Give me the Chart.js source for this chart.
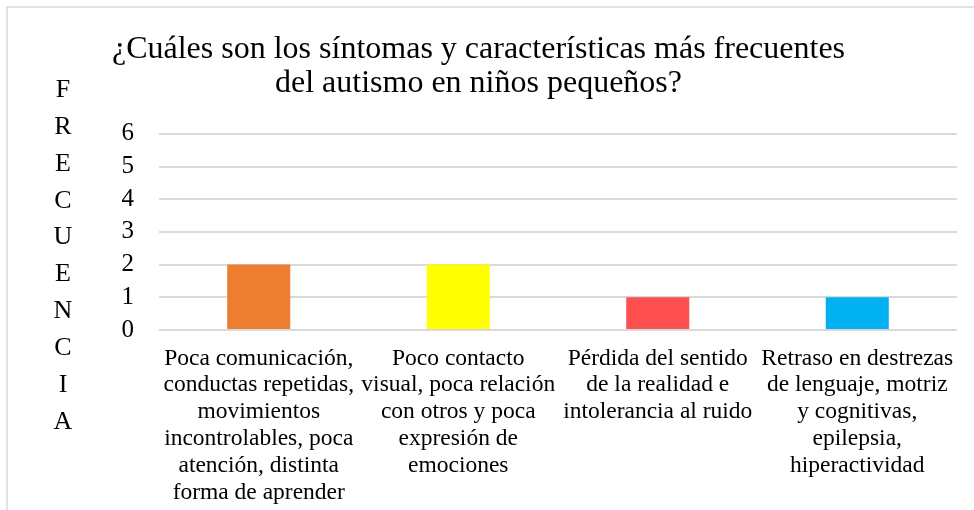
<!DOCTYPE html>
<html>
<head>
<meta charset="utf-8">
<script src="https://cdn.jsdelivr.net/npm/chart.js@4"></script>
<style>
  body { margin: 0; background: #fff; }
  #wrap { width: 974px; height: 510px; }
</style>
</head>
<body>
<div id="wrap"><canvas id="chart" width="974" height="510"></canvas></div>
<script>
// datos del gráfico
var categorias = [
  ['Poca comunicación,', 'conductas repetidas,', 'movimientos', 'incontrolables, poca', 'atención, distinta', 'forma de aprender'],
  ['Poco contacto', 'visual, poca relación', 'con otros y poca', 'expresión de', 'emociones'],
  ['Pérdida del sentido', 'de la realidad e', 'intolerancia al ruido'],
  ['Retraso en destrezas', 'de lenguaje, motriz', 'y cognitivas,', 'epilepsia,', 'hiperactividad']
];
var frecuencias = [2, 2, 1, 1];
var colores = ['#ED7D31', '#FFFF00', '#FF5050', '#00B0F0'];
var tituloY = 'FRECUENCIA';
var titulo = ['¿Cuáles son los síntomas y características más frecuentes', 'del autismo en niños pequeños?'];

var serif = '"Liberation Serif", "Times New Roman", serif';

// marco gris y título vertical letra por letra
var extras = {
  id: 'extras',
  beforeDraw: function (chart) {
    var c = chart.ctx;
    c.save();
    c.strokeStyle = '#d9d9d9';
    c.lineWidth = 1.5;
    c.beginPath();
    c.moveTo(7, 510);
    c.lineTo(7, 7);
    c.lineTo(974, 7);
    c.stroke();
    c.restore();
  },
  afterDraw: function (chart) {
    var c = chart.ctx;
    c.save();
    c.fillStyle = '#000';
    c.font = '26px ' + serif;
    c.textAlign = 'center';
    c.textBaseline = 'middle';
    for (var i = 0; i < tituloY.length; i++) {
      c.fillText(tituloY[i], 63, 90 + i * 36.9);
    }
    c.restore();
  }
};

var ctx = document.getElementById('chart').getContext('2d');
var grafico = new Chart(ctx, {
  type: 'bar',
  data: {
    labels: categorias,
    datasets: [{
      data: frecuencias,
      backgroundColor: colores,
      categoryPercentage: 1,
      barPercentage: 0.316
    }]
  },
  options: {
    responsive: false,
    animation: false,
    layout: { padding: { left: 0, right: 17, top: 0, bottom: 0 } },
    plugins: {
      legend: { display: false },
      tooltip: { enabled: false },
      title: {
        display: true,
        text: titulo,
        color: '#000',
        font: { family: serif, size: 32, weight: 'normal', lineHeight: 1.06 },
        padding: { top: 33, bottom: 33 }
      }
    },
    scales: {
      x: {
        grid: { display: false, drawTicks: false },
        border: { display: false },
        ticks: {
          color: '#000',
          font: { family: serif, size: 23.5, lineHeight: 1.14 },
          maxRotation: 0,
          minRotation: 0,
          autoSkip: false,
          padding: 15
        },
        afterFit: function (s) { s.height = 180; }
      },
      y: {
        min: 0,
        max: 6,
        ticks: {
          stepSize: 1,
          autoSkip: false,
          color: '#000',
          font: { family: serif, size: 25 },
          padding: 25
        },
        grid: { color: '#d9d9d9', lineWidth: 2, drawTicks: false },
        border: { display: false },
        afterFit: function (s) { s.width = 159; }
      }
    }
  },
  plugins: [extras]
});
</script>
</body>
</html>
